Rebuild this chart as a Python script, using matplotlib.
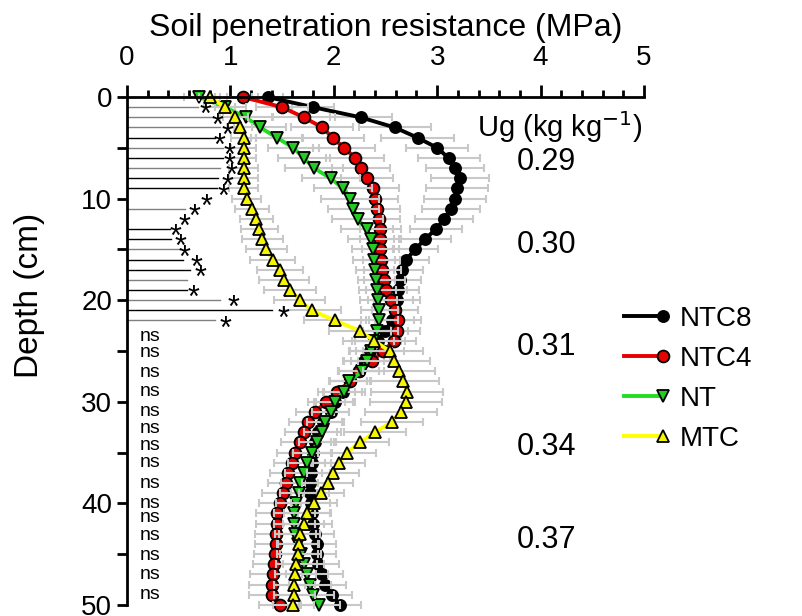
import numpy as np
import matplotlib.pyplot as plt
from matplotlib.legend_handler import HandlerLine2D
from matplotlib.ticker import MultipleLocator

plt.rcParams['font.family'] = ['Liberation Sans', 'DejaVu Sans']

#%% data
depth = np.arange(0, 51)

ntc8 = [1.36, 1.80, 2.26, 2.59, 2.81, 3.00, 3.11, 3.17, 3.22, 3.19,
        3.17, 3.13, 3.07, 2.99, 2.88, 2.79, 2.70, 2.66, 2.64, 2.62,
        2.61, 2.59, 2.56, 2.50, 2.43, 2.35, 2.29, 2.24, 2.16, 2.09,
        2.01, 1.97, 1.90, 1.85, 1.82, 1.80, 1.79, 1.78, 1.77, 1.77,
        1.78, 1.79, 1.80, 1.82, 1.84, 1.84, 1.85, 1.89, 1.92, 1.98,
        2.06]
ntc4 = [1.12, 1.50, 1.71, 1.89, 1.99, 2.10, 2.21, 2.26, 2.32, 2.38,
        2.40, 2.42, 2.44, 2.45, 2.45, 2.45, 2.46, 2.47, 2.49, 2.51,
        2.55, 2.59, 2.62, 2.61, 2.58, 2.48, 2.37, 2.24, 2.16, 2.03,
        1.93, 1.82, 1.75, 1.71, 1.67, 1.63, 1.60, 1.56, 1.54, 1.51,
        1.48, 1.45, 1.45, 1.44, 1.44, 1.43, 1.42, 1.41, 1.40, 1.40,
        1.48]
nt = [0.70, 0.95, 1.15, 1.29, 1.45, 1.61, 1.71, 1.81, 1.97, 2.09,
      2.16, 2.19, 2.23, 2.32, 2.36, 2.38, 2.39, 2.40, 2.41, 2.42,
      2.43, 2.44, 2.44, 2.42, 2.38, 2.36, 2.32, 2.27, 2.15, 2.10,
      2.01, 1.97, 1.92, 1.89, 1.84, 1.79, 1.74, 1.71, 1.67, 1.66,
      1.64, 1.62, 1.62, 1.63, 1.65, 1.68, 1.71, 1.74, 1.77, 1.80,
      1.86]
mtc = [0.80, 0.95, 1.05, 1.09, 1.13, 1.13, 1.13, 1.13, 1.13, 1.13,
       1.16, 1.21, 1.25, 1.28, 1.31, 1.35, 1.41, 1.48, 1.52, 1.58,
       1.67, 1.79, 2.01, 2.25, 2.39, 2.54, 2.58, 2.63, 2.67, 2.71,
       2.70, 2.65, 2.56, 2.40, 2.25, 2.13, 2.05, 1.99, 1.94, 1.88,
       1.81, 1.74, 1.71, 1.67, 1.66, 1.65, 1.64, 1.63, 1.62, 1.62,
       1.61]

# standard errors (horizontal bars)
ntc8_err = [0.15, 0.20, 0.30, 0.35, 0.35, 0.30, 0.30, 0.28, 0.28, 0.30,
            0.30, 0.28, 0.28, 0.25, 0.25, 0.22, 0.22, 0.20, 0.20, 0.20,
            0.22, 0.22, 0.22, 0.22, 0.22, 0.20, 0.20, 0.20, 0.20, 0.18,
            0.18, 0.18, 0.18, 0.18, 0.18, 0.18, 0.18, 0.18, 0.18, 0.18,
            0.18, 0.18, 0.18, 0.18, 0.18, 0.18, 0.20, 0.20, 0.20, 0.20,
            0.20]
ntc4_err = [0.15, 0.25, 0.30, 0.30, 0.30, 0.30, 0.28, 0.28, 0.25, 0.25,
            0.22, 0.22, 0.20, 0.20, 0.20, 0.18, 0.18, 0.18, 0.20, 0.20,
            0.22, 0.22, 0.22, 0.22, 0.22, 0.20, 0.20, 0.20, 0.20, 0.18,
            0.18, 0.18, 0.18, 0.18, 0.18, 0.18, 0.18, 0.18, 0.18, 0.20,
            0.20, 0.20, 0.20, 0.20, 0.20, 0.20, 0.20, 0.22, 0.22, 0.22,
            0.20]
nt_err = [0.15, 0.20, 0.25, 0.25, 0.25, 0.25, 0.25, 0.28, 0.28, 0.28,
          0.28, 0.25, 0.25, 0.25, 0.22, 0.20, 0.20, 0.18, 0.18, 0.18,
          0.18, 0.18, 0.18, 0.20, 0.20, 0.20, 0.22, 0.22, 0.20, 0.20,
          0.20, 0.18, 0.18, 0.18, 0.18, 0.18, 0.18, 0.18, 0.18, 0.18,
          0.20, 0.20, 0.20, 0.20, 0.20, 0.20, 0.20, 0.20, 0.20, 0.20,
          0.20]
mtc_err = [0.10, 0.10, 0.12, 0.12, 0.12, 0.12, 0.12, 0.14, 0.14, 0.14,
           0.14, 0.16, 0.16, 0.18, 0.20, 0.20, 0.22, 0.22, 0.24, 0.25,
           0.25, 0.28, 0.30, 0.30, 0.30, 0.32, 0.35, 0.35, 0.35, 0.35,
           0.35, 0.35, 0.30, 0.30, 0.28, 0.28, 0.25, 0.25, 0.25, 0.22,
           0.22, 0.22, 0.20, 0.20, 0.20, 0.20, 0.20, 0.20, 0.20, 0.20,
           0.20]

# significance marks, depths 1..22
sig_depth = list(range(1, 23))
sig_line = [0.69, 0.83, 0.90, 0.85, 0.93, 0.93, 0.90, 0.88, 0.87, None, 0.56,
            None, 0.42, 0.43, 0.51, 0.54, 0.61, 0.58, 0.58, 0.90, 1.40, 0.85]
sig_color = ['gray', 'gray', 'gray', 'black', 'gray', 'black', 'gray', 'black',
             'black', None, 'gray', None, 'black', 'black', 'gray', 'black',
             'black', 'gray', 'black', 'gray', 'black', 'gray']
star_x = [0.76, 0.88, 0.97, 0.90, 0.99, 0.99, 1.01, 0.97, 0.93, 0.77, 0.65,
          0.56, 0.47, 0.52, 0.56, 0.67, 0.71, None, 0.64, 1.03, 1.51, 0.95]
ns_depth = [23.6, 25.2, 27.1, 29.0, 31.0, 32.6, 34.3, 36.0, 38.0, 40.0,
            41.4, 43.2, 45.1, 47.0, 49.0]

# gravimetric water content by layer
ug_label = ['0.29', '0.30', '0.31', '0.34', '0.37']
ug_depth = [6.4, 14.6, 24.6, 34.5, 43.6]


class RightMarker(HandlerLine2D):
    # legend marker drawn at the right end of the line
    def create_artists(self, legend, orig_handle, xdescent, ydescent,
                       width, height, fontsize, trans):
        arts = super().create_artists(legend, orig_handle, xdescent, ydescent,
                                      width, height, fontsize, trans)
        arts[0].set_markevery([2])
        return arts


#%% plot
fig = plt.figure(figsize=(8.03, 6.16), dpi=100)
ax = fig.add_axes([0.158, 0.018, 0.644, 0.8245])

gray = '#c8c8c8'
series = [(ntc8, ntc8_err, 'NTC8', 'black', 'o', 'black', 8),
          (ntc4, ntc4_err, 'NTC4', '#e60000', 'o', '#e60000', 8.5),
          (nt, nt_err, 'NT', '#22dd22', 'v', '#22cc22', 8.5),
          (mtc, mtc_err, 'MTC', '#ffff00', '^', '#f5f500', 8.5)]
handles = []
for vals, err, lab, lc, mk, fc, ms in series:
    ax.errorbar(vals, depth, xerr=err, fmt='none', ecolor=gray,
                elinewidth=1.5, capsize=3, capthick=1.5, clip_on=False)
    ln, = ax.plot(vals, depth, color=lc, lw=2.8, marker=mk, ms=ms, mfc=fc,
                  mec='black', mew=1.3, label=lab, clip_on=False)
    handles.append(ln)

for d, L, c, s in zip(sig_depth, sig_line, sig_color, star_x):
    if L is not None:
        ax.plot([0, L], [d, d], color=c, lw=1.0)
    if s is not None:
        ax.text(s, d + 0.9, '*', ha='center', va='center', fontsize=22)

for d in ns_depth:
    ax.text(0.12, d, 'ns', ha='left', va='center', fontsize=14)

ax.text(4.19, 2.95, 'Ug (kg kg$^{-1}$)', ha='center', va='center', fontsize=21)
for lab, d in zip(ug_label, ug_depth):
    ax.text(4.06, d, lab, ha='center', va='center', fontsize=22)

ax.set_xlim(0, 5)
ax.set_ylim(50, 0)
ax.xaxis.tick_top()
ax.xaxis.set_label_position('top')
ax.xaxis.set_major_locator(MultipleLocator(1))
ax.xaxis.set_minor_locator(MultipleLocator(0.2))
ax.yaxis.set_major_locator(MultipleLocator(10))
ax.yaxis.set_minor_locator(MultipleLocator(5))
ax.tick_params(axis='x', which='major', length=9, width=2, labelsize=20, pad=10)
ax.tick_params(axis='x', which='minor', length=5, width=2)
ax.tick_params(axis='y', which='both', length=7, width=2, labelsize=20)
for sp in ['right', 'bottom']:
    ax.spines[sp].set_visible(False)
for sp in ['top', 'left']:
    ax.spines[sp].set_linewidth(2)

ax.set_xlabel('Soil penetration resistance (MPa)', fontsize=23, labelpad=6)
ax.set_ylabel('Depth (cm)', fontsize=24)
ax.yaxis.set_label_coords(-0.158, 0.61)

fig.legend(handles=handles, loc='upper left', bbox_to_anchor=(624 / 803, 1 - 306 / 616),
           frameon=False, fontsize=20, handlelength=1.4, handletextpad=0.6,
           labelspacing=0.5, borderpad=0, borderaxespad=0,
           handler_map={plt.Line2D: RightMarker(numpoints=1)})

fig.savefig('out.png', dpi=100)
